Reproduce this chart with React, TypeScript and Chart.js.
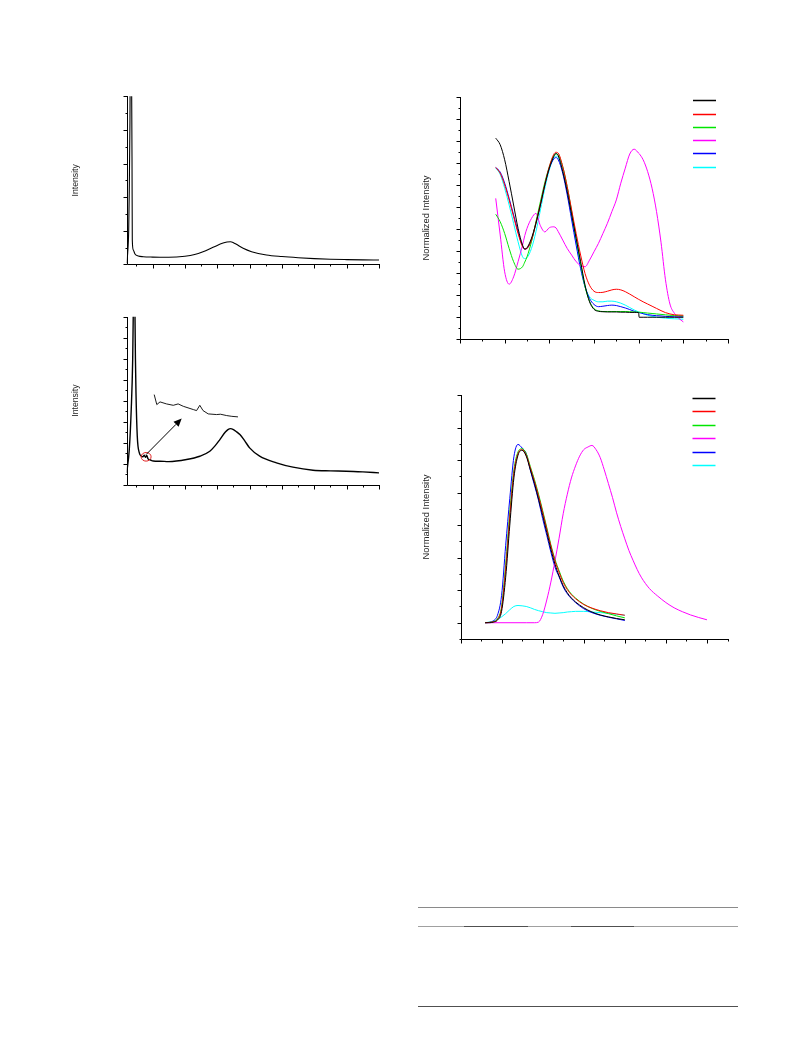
import React, { useEffect, useRef } from "react";
import { Chart, registerables } from "chart.js";

Chart.register(...registerables);

// ---------- Top-left: intensity vs angle ----------
const xrdTopAngle = [2.0, 2.3, 2.62, 2.8, 3.0, 3.15, 3.3, 3.45, 3.54, 3.64, 3.73, 4.04, 4.56, 5.58, 7.1, 10, 15, 20, 23, 25.6, 28.7, 31.8, 33.0, 34.1, 35.0, 35.9, 38, 40.6, 45.2, 50, 55, 60, 65, 70, 75, 80];
const xrdTopIntensity = [30, 327, 1020, 2211, 4200, 7000, 9000, 7000, 5000, 3200, 723, 426, 307, 247, 226, 215, 210, 240, 290, 375, 506, 634, 662, 673, 645, 595, 476, 375, 277, 230, 195, 168, 150, 140, 133, 128];

// ---------- Middle-left: intensity vs angle, with inset ----------
const xrdBottomAngle = [2.0, 2.8, 3.4, 3.85, 4.1, 4.3, 4.5, 4.7, 4.87, 5.27, 5.9, 6.6, 7.0, 7.4, 7.8, 8.2, 8.6, 9.2, 10.2, 12.3, 15, 20.5, 24.6, 27.7, 29.3, 30.8, 32.5, 33.3, 34.1, 35.0, 36.0, 37, 38.5, 40, 43.1, 48.3, 53.4, 59.6, 65, 69.9, 75, 80];
const xrdBottomIntensity = [278, 833, 1786, 2976, 4500, 6000, 4500, 3000, 2190, 1150, 755, 674, 660, 700, 650, 690, 610, 590, 560, 555, 545, 595, 674, 793, 920, 1071, 1250, 1310, 1333, 1310, 1255, 1190, 1040, 873, 675, 516, 413, 341, 325, 317, 300, 278];
const insetAngle = [10.5, 11.3, 12.3, 14.3, 16.4, 17.9, 19.5, 22.6, 23.6, 24.6, 25.6, 27.2, 29.8, 31.0, 32.9, 34.5, 36.4];
const insetIntensity = [2143, 1905, 1969, 1921, 1888, 1921, 1864, 1786, 1762, 1888, 1762, 1683, 1667, 1675, 1643, 1625, 1612];
const zoomMarker = { x: 8.0, y: 660 };
const arrowFrom = { x: 8.0, y: 714 };
const arrowTo = { x: 19.0, y: 1571 };

// ---------- Top-right: normalized absorption ----------
const absWavelength = [280, 290, 300, 310, 320, 330, 340, 345, 350, 360, 370, 380, 390, 400, 410, 415, 420, 430, 440, 450, 460, 470, 480, 490, 500, 510, 520, 530, 540, 550, 560, 570, 580, 590, 600, 601, 610, 620, 630, 640, 650, 660, 670, 680, 690, 700];
const absBlack = [0.912, 0.882, 0.814, 0.715, 0.609, 0.503, 0.427, 0.409, 0.415, 0.458, 0.526, 0.609, 0.700, 0.776, 0.829, 0.843, 0.832, 0.760, 0.670, 0.564, 0.458, 0.352, 0.245, 0.170, 0.136, 0.127, 0.125, 0.124, 0.124, 0.124, 0.123, 0.123, 0.122, 0.122, 0.121, 0.100, 0.100, 0.100, 0.100, 0.100, 0.100, 0.100, 0.100, 0.100, 0.100, 0.100];
const absRed = [0.779, 0.753, 0.700, 0.632, 0.556, 0.480, 0.420, 0.410, 0.412, 0.450, 0.526, 0.612, 0.703, 0.783, 0.839, 0.848, 0.844, 0.783, 0.692, 0.586, 0.480, 0.382, 0.298, 0.245, 0.218, 0.212, 0.213, 0.218, 0.224, 0.227, 0.224, 0.216, 0.205, 0.193, 0.181, 0.180, 0.170, 0.160, 0.150, 0.140, 0.130, 0.121, 0.115, 0.111, 0.110, 0.109];
const absGreen = [0.567, 0.533, 0.480, 0.412, 0.352, 0.318, 0.329, 0.350, 0.374, 0.442, 0.533, 0.624, 0.712, 0.783, 0.833, 0.840, 0.836, 0.783, 0.692, 0.579, 0.458, 0.344, 0.238, 0.173, 0.139, 0.129, 0.126, 0.126, 0.126, 0.126, 0.126, 0.126, 0.125, 0.124, 0.123, 0.123, 0.121, 0.119, 0.117, 0.115, 0.113, 0.111, 0.109, 0.108, 0.107, 0.106];
const absMagenta = [0.639, 0.473, 0.306, 0.250, 0.283, 0.352, 0.427, 0.470, 0.503, 0.548, 0.571, 0.515, 0.487, 0.506, 0.510, 0.505, 0.488, 0.450, 0.412, 0.382, 0.352, 0.335, 0.329, 0.359, 0.397, 0.435, 0.480, 0.526, 0.579, 0.632, 0.708, 0.776, 0.840, 0.862, 0.844, 0.842, 0.814, 0.761, 0.685, 0.579, 0.440, 0.270, 0.160, 0.118, 0.095, 0.079];
const absBlue = [0.779, 0.758, 0.708, 0.639, 0.564, 0.488, 0.424, 0.409, 0.412, 0.450, 0.526, 0.612, 0.703, 0.776, 0.818, 0.824, 0.814, 0.753, 0.655, 0.541, 0.427, 0.321, 0.238, 0.185, 0.158, 0.148, 0.150, 0.153, 0.155, 0.153, 0.148, 0.142, 0.135, 0.127, 0.121, 0.121, 0.116, 0.112, 0.109, 0.107, 0.106, 0.104, 0.103, 0.102, 0.102, 0.102];
const absCyan = [0.776, 0.748, 0.685, 0.609, 0.526, 0.442, 0.374, 0.366, 0.370, 0.412, 0.488, 0.586, 0.685, 0.768, 0.824, 0.830, 0.824, 0.768, 0.673, 0.556, 0.442, 0.329, 0.238, 0.192, 0.177, 0.170, 0.170, 0.173, 0.173, 0.170, 0.164, 0.155, 0.144, 0.133, 0.124, 0.123, 0.116, 0.109, 0.104, 0.100, 0.098, 0.096, 0.094, 0.093, 0.092, 0.091];

// ---------- Bottom-right: normalized emission ----------
const emWavelength = [430, 435, 440, 445, 450, 455, 460, 465, 470, 475, 480, 485, 490, 495, 500, 505, 510, 515, 520, 525, 530, 535, 540, 550, 560, 570, 580, 590, 600];
const emBlack = [0, 0, 2, 8, 35, 140, 300, 445, 515, 530, 512, 470, 428, 380, 330, 278, 226, 180, 144, 114, 92, 76, 64, 46, 33, 24, 18, 13, 9];
const emRed = [0, 1, 3, 10, 45, 165, 325, 460, 520, 532, 515, 476, 435, 390, 340, 288, 236, 190, 155, 124, 102, 86, 74, 56, 45, 37, 31, 27, 23];
const emGreen = [0, 1, 3, 12, 50, 180, 340, 470, 525, 535, 520, 480, 440, 395, 345, 293, 240, 195, 160, 128, 105, 88, 76, 57, 44, 35, 28, 21, 15];
const emBlue = [0, 1, 6, 23, 84, 238, 382, 510, 548, 537, 520, 469, 423, 376, 320, 269, 217, 171, 141, 110, 89, 74, 62, 43, 31, 23, 17, 12, 7];
const emCyan = [0, 2, 5, 10, 18, 28, 40, 50, 53, 52, 50, 46, 41, 37, 34, 31, 30, 29, 30, 31, 33, 34, 35, 35, 33, 31, 29, 26, 23];
const emMagentaWavelength = [430, 480, 490, 495, 500, 505, 510, 515, 520, 525, 530, 535, 540, 545, 550, 555, 560, 565, 570, 575, 580, 585, 590, 595, 600, 605, 610, 615, 620, 630, 640, 650, 660, 670, 680, 690, 700];
const emMagenta = [0, 0, 0, 2, 25, 70, 125, 190, 260, 335, 395, 445, 482, 512, 532, 540, 545, 532, 508, 470, 428, 385, 338, 296, 258, 222, 192, 164, 140, 105, 82, 62, 46, 34, 24, 16, 9];

const seriesColors = ["#000000", "#ff0000", "#00e600", "#ff00ff", "#0000ff", "#00ffff"];
const seriesNames = ["S1", "S2", "S3", "S4", "S5", "S6"];

const FONT = "'Liberation Sans', Arial, Helvetica, sans-serif";

const toPoints = (xs: number[], ys: number[]) => xs.map((x, i) => ({ x, y: ys[i] }));

function lineDs(label: string, xs: number[], ys: number[], color: string, width: number, smooth = true) {
  return {
    label,
    data: toPoints(xs, ys),
    borderColor: color,
    backgroundColor: color,
    borderWidth: width,
    pointRadius: 0,
    fill: false,
    tension: 0,
    cubicInterpolationMode: smooth ? "monotone" : "default",
  };
}

const paperAxes = {
  id: "paperAxes",
  afterDatasetsDraw(chart: any, _args: any, opts: any) {
    const { ctx, chartArea: a, scales } = chart;
    const xs = scales.x;
    const ys = scales.y;
    const L = Math.round(a.left) + 0.5;
    const B = Math.round(a.bottom) + 0.5;
    ctx.save();
    ctx.strokeStyle = "#000";
    ctx.lineWidth = 1;
    ctx.beginPath();
    ctx.moveTo(L, Math.round(a.top));
    ctx.lineTo(L, B);
    ctx.lineTo(Math.round(a.right) + 1, B);
    const ticks = (scale: any, minor: number, major: number, cb: (p: number, M: boolean) => void) => {
      const ratio = Math.round(major / minor);
      const k0 = Math.ceil(scale.min / minor - 1e-6);
      const k1 = Math.floor(scale.max / minor + 1e-6);
      for (let k = k0; k <= k1; k++) cb(scale.getPixelForValue(k * minor), k % ratio === 0);
    };
    ticks(xs, opts.xMinor, opts.xMajor, (p, M) => {
      const px = Math.round(p) + 0.5;
      ctx.moveTo(px, B);
      ctx.lineTo(px, B + (M ? 4 : 2));
    });
    ticks(ys, opts.yMinor, opts.yMajor, (p, M) => {
      const py = Math.round(p) + 0.5;
      ctx.moveTo(L, py);
      ctx.lineTo(L - (M ? 4 : 2), py);
    });
    ctx.stroke();

    if (opts.legend) {
      const lg = opts.legend;
      chart.data.datasets.forEach((ds: any, i: number) => {
        const y = Math.round(a.top + lg.y0 + i * lg.dy) + 0.5;
        ctx.strokeStyle = ds.borderColor;
        ctx.lineWidth = 1.5;
        ctx.beginPath();
        ctx.moveTo(a.right - 35, y);
        ctx.lineTo(a.right - 12, y);
        ctx.stroke();
      });
    }

    if (opts.marker) {
      const m = opts.marker;
      ctx.strokeStyle = "#e02020";
      ctx.lineWidth = 1;
      ctx.beginPath();
      ctx.ellipse(xs.getPixelForValue(m.x), ys.getPixelForValue(m.y), 5, 4.3, 0, 0, Math.PI * 2);
      ctx.stroke();
    }

    if (opts.arrow) {
      const { from, to } = opts.arrow;
      const x1 = xs.getPixelForValue(from.x), y1 = ys.getPixelForValue(from.y);
      const x2 = xs.getPixelForValue(to.x), y2 = ys.getPixelForValue(to.y);
      const ang = Math.atan2(y2 - y1, x2 - x1);
      const c = Math.cos(ang), s = Math.sin(ang);
      const hl = 8, hw = 3.6;
      ctx.strokeStyle = "#000";
      ctx.fillStyle = "#000";
      ctx.lineWidth = 1;
      ctx.beginPath();
      ctx.moveTo(x1, y1);
      ctx.lineTo(x2 - hl * c, y2 - hl * s);
      ctx.stroke();
      ctx.beginPath();
      ctx.moveTo(x2, y2);
      ctx.lineTo(x2 - hl * c + hw * s, y2 - hl * s - hw * c);
      ctx.lineTo(x2 - hl * c - hw * s, y2 - hl * s + hw * c);
      ctx.closePath();
      ctx.fill();
    }
    ctx.restore();
  },
};

type Area = { l: number; t: number; r: number; b: number };

function baseOptions(xr: number[], yr: number[], axesOpts: any) {
  return {
    responsive: false,
    animation: false,
    events: [],
    plugins: { legend: { display: false }, tooltip: { enabled: false }, paperAxes: axesOpts },
    scales: {
      x: { type: "linear", min: xr[0], max: xr[1], display: false },
      y: {
        type: "linear",
        min: yr[0],
        max: yr[1],
        display: true,
        grid: { display: false, drawTicks: false },
        border: { display: false },
        ticks: { display: false },
      },
    },
  } as any;
}

function PaperChart({ area, titleX, title, fontSize, makeConfig }: { area: Area; titleX: number; title: string; fontSize: number; makeConfig: () => any }) {
  const ref = useRef<HTMLCanvasElement>(null);
  const cl = Math.floor(titleX - 14);
  const ct = Math.floor(area.t - 14);
  const cw = Math.ceil(area.r + 16 - cl);
  const ch = Math.ceil(area.b + 16 - ct);
  useEffect(() => {
    const lh = fontSize * 1.2;
    const cfg = makeConfig();
    cfg.options.layout = {
      padding: { left: titleX - lh / 2 - cl, top: area.t - ct, right: cl + cw - area.r, bottom: ct + ch - area.b },
    };
    cfg.options.scales.y.title = {
      display: true,
      text: title,
      color: "#222",
      font: { family: FONT, size: fontSize },
      padding: { top: 0, bottom: area.l - titleX - lh / 2 },
    };
    cfg.plugins = [paperAxes];
    const chart = new Chart(ref.current as HTMLCanvasElement, cfg);
    return () => chart.destroy();
  }, []);
  return (
    <canvas
      ref={ref}
      width={cw}
      height={ch}
      style={{ position: "absolute", left: cl, top: ct, width: cw, height: ch }}
    />
  );
}

const chartTopLeft = () => ({
  type: "line",
  data: { datasets: [lineDs("XRD", xrdTopAngle, xrdTopIntensity, "#000", 1.1)] },
  options: baseOptions([2, 80], [0, 5000], { xMinor: 5, xMajor: 10, yMinor: 500, yMajor: 1000 }),
});

const chartMidLeft = () => ({
  type: "line",
  data: {
    datasets: [
      lineDs("XRD", xrdBottomAngle, xrdBottomIntensity, "#000", 1.4),
      lineDs("inset", insetAngle, insetIntensity, "#000", 0.9, false),
    ],
  },
  options: baseOptions([2, 80], [0, 4000], {
    xMinor: 5, xMajor: 10, yMinor: 250, yMajor: 500,
    marker: zoomMarker,
    arrow: { from: arrowFrom, to: arrowTo },
  }),
});

const absSeries = [absBlack, absRed, absGreen, absMagenta, absBlue, absCyan];
const chartTopRight = () => ({
  type: "line",
  data: { datasets: absSeries.map((ys, i) => lineDs(seriesNames[i], absWavelength, ys, seriesColors[i], 1)) },
  options: baseOptions([200, 800], [0, 1.1], { xMinor: 50, xMajor: 100, yMinor: 0.05, yMajor: 0.1, legend: { y0: 3.5, dy: 13.3 } }),
});

const chartBottomRight = () => ({
  type: "line",
  data: {
    datasets: [
      lineDs(seriesNames[0], emWavelength, emBlack, seriesColors[0], 1),
      lineDs(seriesNames[1], emWavelength, emRed, seriesColors[1], 1),
      lineDs(seriesNames[2], emWavelength, emGreen, seriesColors[2], 1),
      lineDs(seriesNames[3], emMagentaWavelength, emMagenta, seriesColors[3], 1),
      lineDs(seriesNames[4], emWavelength, emBlue, seriesColors[4], 1),
      lineDs(seriesNames[5], emWavelength, emCyan, seriesColors[5], 1),
    ],
  },
  options: baseOptions([400, 725], [-50, 700], { xMinor: 25, xMajor: 50, yMinor: 50, yMajor: 100, legend: { y0: 3, dy: 13.4 } }),
});

const rule = (top: number, left: number, width: number, color: string, h = 1) => (
  <div style={{ position: "absolute", top, left, width, height: h, background: color }} />
);

export default function App() {
  return (
    <div style={{ position: "absolute", left: 0, top: 0, width: 793, height: 1057, background: "#fff", overflow: "hidden" }}>
      <PaperChart area={{ l: 126.7, t: 96.3, r: 379, b: 264.3 }} titleX={75.7} title="Intensity" fontSize={8.7} makeConfig={chartTopLeft} />
      <PaperChart area={{ l: 126.7, t: 316.7, r: 379, b: 484.5 }} titleX={75.7} title="Intensity" fontSize={8.7} makeConfig={chartMidLeft} />
      <PaperChart area={{ l: 460, t: 96.7, r: 728, b: 339.3 }} titleX={426} title="Normalized Intensity" fontSize={9.4} makeConfig={chartTopRight} />
      <PaperChart area={{ l: 460.5, t: 395, r: 727.5, b: 639 }} titleX={426} title="Normalized Intensity" fontSize={9.4} makeConfig={chartBottomRight} />
      {rule(907, 418, 320, "#8a8a8a")}
      {rule(926, 418, 320, "#a0a0a0")}
      {rule(926, 464, 64, "#505050", 1.3)}
      {rule(926, 571, 63, "#505050", 1.3)}
      {rule(1005.5, 418, 320, "#505050")}
    </div>
  );
}
